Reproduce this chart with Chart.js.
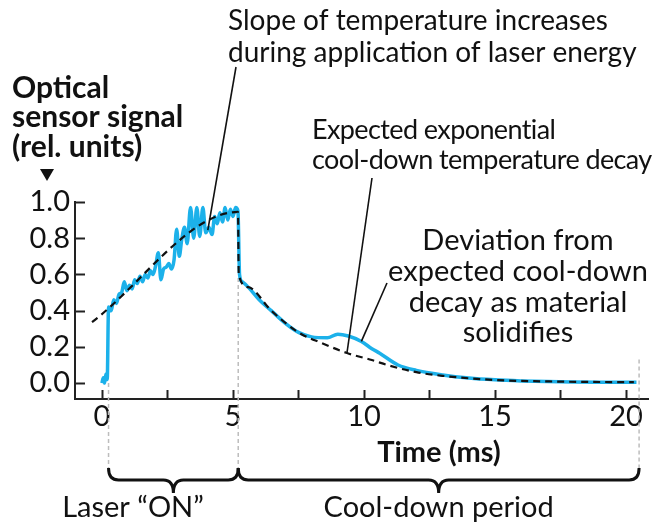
<!DOCTYPE html>
<html>
<head>
<meta charset="utf-8">
<script src="https://cdn.jsdelivr.net/npm/chart.js@4/dist/chart.umd.min.js"></script>
<style>
body { margin: 0; background: #fff; }
canvas { display: block; }
</style>
</head>
<body>
<canvas id="chart" width="656" height="526"></canvas>
<script>
// measured sensor signal (ms, rel. units)
var signalX = [0.0, 0.05, 0.1, 0.15, 0.2, 0.25, 0.35, 0.45, 0.55, 0.65, 0.75, 0.85, 0.95, 1.05, 1.15, 1.25, 1.35, 1.45, 1.55, 1.65,
    1.75, 1.85, 1.95, 2.05, 2.15, 2.25, 2.35, 2.45, 2.55, 2.65, 2.75, 2.85, 2.95, 3.05, 3.15, 3.25, 3.38, 3.5, 3.62, 3.73,
    3.85, 3.96, 4.08, 4.2, 4.3, 4.4, 4.5, 4.6, 4.7, 4.8, 4.9, 5.0, 5.1, 5.19, 5.25, 5.35, 5.58, 6.0, 6.46, 7.0,
    7.5, 8.0, 8.6, 9.0, 9.4, 9.9, 10.3, 10.6, 11.3, 12.0, 13.0, 14.0, 15.0, 16.0, 17.0, 18.0, 19.0, 20.4];
var signalY = [0.0, 0.03, 0.0, 0.05, 0.02, 0.42, 0.40, 0.46, 0.44, 0.49, 0.50, 0.56, 0.51, 0.54, 0.52, 0.57, 0.55, 0.59, 0.56, 0.60,
    0.58, 0.62, 0.60, 0.65, 0.72, 0.57, 0.63, 0.64, 0.66, 0.63, 0.68, 0.85, 0.70, 0.80, 0.86, 0.77, 0.97, 0.80, 0.97, 0.81,
    0.97, 0.83, 0.86, 0.82, 0.92, 0.88, 0.94, 0.89, 0.97, 0.90, 0.96, 0.92, 0.97, 0.95, 0.60, 0.56, 0.53, 0.46, 0.40, 0.33,
    0.28, 0.255, 0.25, 0.27, 0.26, 0.23, 0.19, 0.165, 0.10, 0.07, 0.045, 0.028, 0.018, 0.012, 0.008, 0.006, 0.005, 0.005];

// expected trend: linear heating, then exponential cool-down
var fitX = [-0.38, 5.19, 5.22, 5.58, 6.46, 7.5, 8.4, 9.35, 10.3, 11.0, 12.0, 13.0, 15.0, 17.5, 20.3];
var fitY = [0.337, 0.945, 0.60, 0.53, 0.40, 0.28, 0.22, 0.166, 0.127, 0.095, 0.06, 0.04, 0.017, 0.008, 0.005];

var xTicks = [0, 5, 10, 15, 20];
var xMinorTicks = [2.5, 7.5, 12.5, 17.5];
var yTicks = [0.0, 0.2, 0.4, 0.6, 0.8, 1.0];

// phase boundaries (ms) and where the grey guide lines start (rel. units)
var phaseEdges = [0.25, 5.2, 20.5];
var phaseGuideTop = [0.0, 0.58, 0.13];
var phaseLabels = ['Laser \u201CON\u201D', 'Cool-down period'];

// points the leader lines point at
var slopePoint = [4.04, 0.845];
var expectedPoint = [9.35, 0.166];
var deviationPoint = [9.9, 0.23];

function toPoints(xs, ys) {
    return xs.map(function (x, i) { return { x: x, y: ys[i] }; });
}

var INK = '#111';
var FONT = 'Lato, "Noto Sans", sans-serif';

function drawBrace(ctx, x1, x2, top) {
    var mid = (x1 + x2) / 2, flat = top + 12, cusp = top + 25, r = 10;
    ctx.beginPath();
    ctx.moveTo(x1, top);
    ctx.quadraticCurveTo(x1, flat, x1 + r, flat);
    ctx.lineTo(mid - r, flat);
    ctx.quadraticCurveTo(mid, flat, mid, cusp);
    ctx.quadraticCurveTo(mid, flat, mid + r, flat);
    ctx.lineTo(x2 - r, flat);
    ctx.quadraticCurveTo(x2, flat, x2, top);
    ctx.stroke();
}

function leader(ctx, fromX, fromY, pt, xs, ys) {
    ctx.beginPath();
    ctx.moveTo(fromX, fromY);
    ctx.lineTo(xs.getPixelForValue(pt[0]), ys.getPixelForValue(pt[1]));
    ctx.stroke();
}

function lines(ctx, list, x, y0, step) {
    list.forEach(function (t, i) { ctx.fillText(t, x, y0 + i * step); });
}

var braceTop = 468;

var guides = {
    id: 'guides',
    beforeDatasetsDraw: function (chart) {
        var ctx = chart.ctx, xs = chart.scales.x, ys = chart.scales.y;
        ctx.save();
        ctx.strokeStyle = '#bdbdbd';
        ctx.lineWidth = 1.5;
        ctx.setLineDash([4, 3]);
        phaseEdges.forEach(function (v, i) {
            var px = xs.getPixelForValue(v);
            ctx.beginPath();
            ctx.moveTo(px, ys.getPixelForValue(phaseGuideTop[i]));
            ctx.lineTo(px, braceTop);
            ctx.stroke();
        });
        ctx.restore();
    },
    afterDraw: function (chart) {
        var ctx = chart.ctx, xs = chart.scales.x, ys = chart.scales.y, a = chart.chartArea;
        ctx.save();
        ctx.strokeStyle = '#222';
        ctx.lineWidth = 2;
        // inward tick marks
        xTicks.concat(xMinorTicks).forEach(function (v) {
            var px = Math.round(xs.getPixelForValue(v)) + 0.5;
            ctx.beginPath(); ctx.moveTo(px, a.bottom); ctx.lineTo(px, a.bottom - 9); ctx.stroke();
        });
        yTicks.forEach(function (v) {
            var py = Math.round(ys.getPixelForValue(v)) + 0.5;
            ctx.beginPath(); ctx.moveTo(a.left, py); ctx.lineTo(a.left + 10, py); ctx.stroke();
        });

        // braces under the time axis
        ctx.strokeStyle = INK;
        ctx.lineWidth = 3;
        drawBrace(ctx, xs.getPixelForValue(phaseEdges[0]), xs.getPixelForValue(phaseEdges[1]), braceTop);
        drawBrace(ctx, xs.getPixelForValue(phaseEdges[1]), xs.getPixelForValue(phaseEdges[2]), braceTop);

        // leader lines
        ctx.lineWidth = 1.6;
        leader(ctx, 236, 67, slopePoint, xs, ys);
        leader(ctx, 372, 178, expectedPoint, xs, ys);
        leader(ctx, 387, 283, deviationPoint, xs, ys);

        // texts
        ctx.fillStyle = INK;
        ctx.textBaseline = 'middle';
        ctx.textAlign = 'left';
        ctx.font = '28px ' + FONT;
        lines(ctx, ['Slope of temperature increases', 'during application of laser energy'], 228, 21, 32);
        ctx.font = '27px ' + FONT;
        ctx.letterSpacing = '-0.6px';
        lines(ctx, ['Expected exponential', 'cool-down temperature decay'], 312, 130, 30);
        ctx.letterSpacing = '0px';
        ctx.textAlign = 'center';
        ctx.font = '29px ' + FONT;
        lines(ctx, ['Deviation from', 'expected cool-down', 'decay as material', 'solidifies'], 518, 241, 30.7);
        lines(ctx, [phaseLabels[0]], 133, 508, 0);
        lines(ctx, [phaseLabels[1]], xs.getPixelForValue((phaseEdges[1] + phaseEdges[2]) / 2), 508, 0);

        ctx.font = 'bold 29px ' + FONT;
        ctx.fillText('Time (ms)', 439, 453);
        ctx.textAlign = 'left';
        ctx.font = 'bold 30px ' + FONT;
        lines(ctx, ['Optical', 'sensor signal', '(rel. units)'], 12, 88, 29.5);

        // arrow marker above the y axis
        ctx.beginPath();
        ctx.moveTo(40, 169); ctx.lineTo(54, 169); ctx.lineTo(47, 181);
        ctx.closePath();
        ctx.fill();
        ctx.restore();
    }
};

new Chart(document.getElementById('chart'), {
    type: 'line',
    data: {
        datasets: [
            {
                data: toPoints(fitX, fitY),
                borderColor: '#111',
                borderWidth: 2.2,
                borderDash: [7, 5],
                pointRadius: 0,
                cubicInterpolationMode: 'monotone',
                order: 0
            },
            {
                data: toPoints(signalX, signalY),
                borderColor: '#1cb1ea',
                borderWidth: 3.5,
                pointRadius: 0,
                cubicInterpolationMode: 'monotone',
                order: 1
            }
        ]
    },
    options: {
        responsive: false,
        animation: false,
        layout: { padding: { left: 0, right: 8, top: 202, bottom: 87 } },
        plugins: { legend: { display: false }, tooltip: { enabled: false } },
        scales: {
            x: {
                type: 'linear',
                min: -1.03,
                max: 20.84,
                grid: { display: false, drawTicks: false },
                border: { display: true, color: '#222', width: 2 },
                afterBuildTicks: function (s) { s.ticks = xTicks.map(function (v) { return { value: v }; }); },
                afterFit: function (s) { s.height = 40; },
                ticks: { autoSkip: false, maxRotation: 0, padding: 0, color: INK, font: { family: FONT, size: 29 } }
            },
            y: {
                min: -0.088,
                max: 1.0,
                grid: { display: false, drawTicks: false },
                border: { display: true, color: '#222', width: 2 },
                afterBuildTicks: function (s) { s.ticks = yTicks.map(function (v) { return { value: v }; }); },
                afterFit: function (s) { s.width = 75; },
                ticks: {
                    autoSkip: false, padding: 5, color: INK, font: { family: FONT, size: 29 },
                    callback: function (v) { return v.toFixed(1); }
                }
            }
        }
    },
    plugins: [guides]
});
</script>
</body>
</html>
